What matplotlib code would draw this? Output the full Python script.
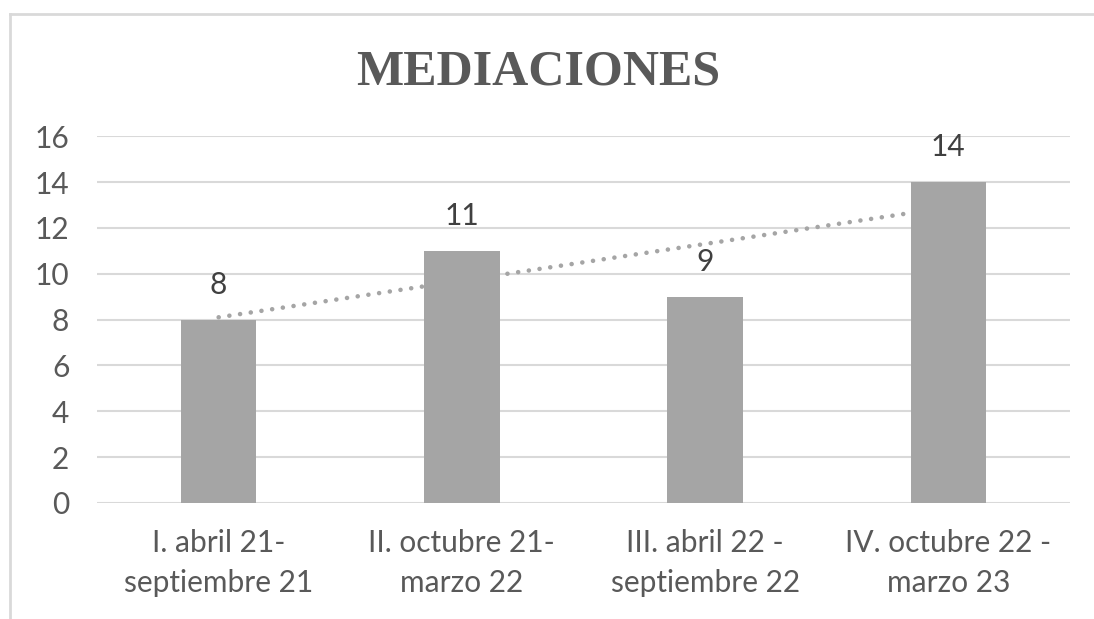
import numpy as np
import matplotlib
matplotlib.use("Agg")
import matplotlib.pyplot as plt
from matplotlib.lines import Line2D

categories = [
    "I. abril 21-\nseptiembre 21",
    "II. octubre 21-\nmarzo 22",
    "III. abril 22 -\nseptiembre 22",
    "IV. octubre 22 -\nmarzo 23",
]
values = [8, 11, 9, 14]
yticks = [0, 2, 4, 6, 8, 10, 12, 14, 16]
title = "MEDIACIONES"

bar_color = "#a5a5a5"
grid_color = "#d9d9d9"
label_color = "#595959"

plt.rcParams["font.family"] = ["Lato", "DejaVu Sans"]

fig = plt.figure(figsize=(10.94, 6.19), dpi=100)
ax = fig.add_axes([0.0887, 0.1874, 0.8893, 0.5926])

x = np.arange(len(values))
ax.bar(x, values, width=0.31, color=bar_color, zorder=2)

# linear trendline
slope, intercept = np.polyfit(x, values, 1)
ax.plot(x, slope * x + intercept, color=bar_color, lw=3.3,
        linestyle=(0, (0.01, 2.35)), dash_capstyle="round", zorder=3)

for xi, v in zip(x, values):
    ax.annotate(str(v), (xi, v), xytext=(0, 15), textcoords="offset points",
                ha="center", va="bottom", fontsize=21.5, color="#404040")

ax.set_xlim(-0.5, len(values) - 0.5)
ax.set_ylim(0, 16)
ax.set_yticks(yticks)
ax.set_xticks(x)
ax.set_xticklabels(categories, linespacing=1.5)
ax.yaxis.grid(True, color=grid_color, lw=1.5, zorder=0)
ax.tick_params(axis="both", length=0, labelsize=21.5, labelcolor=label_color)
ax.tick_params(axis="y", pad=20)
ax.tick_params(axis="x", pad=19)
for s in ax.spines.values():
    s.set_visible(False)

fig.text(0.492, 0.883, title, ha="center", va="center", fontsize=36,
         fontweight="bold", family="Liberation Serif", color=label_color)

# chart frame (top and left edges visible)
fig.add_artist(Line2D([0.0095, 1.0], [0.9775, 0.9775], color=grid_color, lw=2))
fig.add_artist(Line2D([0.0095, 0.0095], [0.0, 0.9775], color=grid_color, lw=2))

fig.savefig("out.png", dpi=100)
